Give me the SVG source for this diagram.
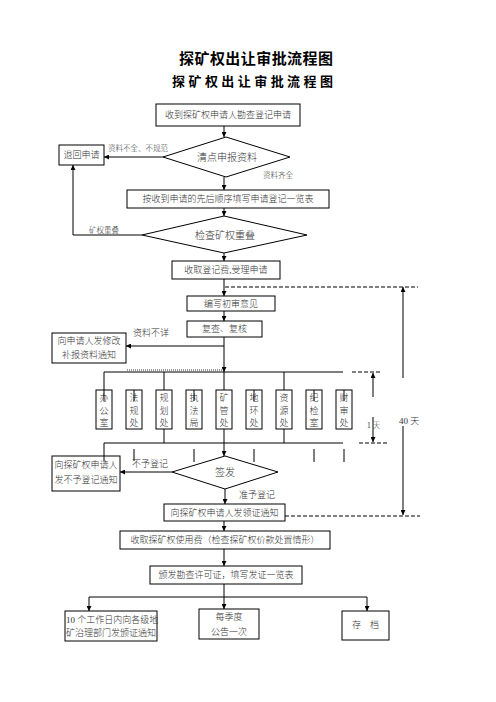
<svg xmlns="http://www.w3.org/2000/svg" width="496" height="702" viewBox="0 0 496 702">
<defs>
<marker id="ah" viewBox="0 0 6 6" refX="6" refY="3" markerWidth="5" markerHeight="5" markerUnits="userSpaceOnUse" orient="auto"><path d="M0,0 L6,3 L0,6 z" fill="#000"/></marker>
</defs>
<style>
.b{fill:#fff;stroke:#000;stroke-width:1}
.t{font-family:"Liberation Serif","Noto Sans CJK SC",serif;font-size:9px;font-weight:300;fill:#333;text-anchor:middle;dominant-baseline:central}
.s{text-anchor:start}
.sm{font-size:7.5px}
.lg{font-size:10px}
.l{stroke:#000;stroke-width:1;fill:none}
.a{marker-end:url(#ah)}
.d{stroke:#000;stroke-width:1;stroke-dasharray:4,2;fill:none}
.ttl{font-family:"Liberation Serif","Noto Sans CJK SC",serif;font-weight:bold;fill:#000}
</style>
<rect width="496" height="702" fill="#fff"/>
<text class="ttl" x="179" y="64" font-size="15" textLength="154" lengthAdjust="spacing">探矿权出让审批流程图</text>
<text class="ttl" x="172" y="86" font-size="13" textLength="161" lengthAdjust="spacing">探矿权出让审批流程图</text>

<g id="connectors">
<path class="l a" d="M224,126 V137"/>
<path class="l a" d="M224,177 V190"/>
<path class="l a" d="M163,157 H104"/>
<path class="l a" d="M224,208 V216"/>
<path class="l a" d="M142,235 H73 V165"/>
<path class="l a" d="M224,253 V261"/>
<path class="l a" d="M224,279 V296"/>
<path class="l a" d="M224,311 V321"/>
<path class="l a" d="M224,337 V372"/>
<path class="l a" d="M224,346 H126"/>
<path class="l" d="M104,372 H343"/>
<path d="M127,370 H222" stroke="#999" stroke-width="2" stroke-dasharray="1,1" fill="none"/>
<path class="l" d="M104,372 V401 M164,372 V390 M224,372 V390 M284,372 V390"/>
<path class="l" d="M164,429 V443 M224,429 V443 M284,429 V443"/>
<path class="l" d="M104,443 H343"/>
<path class="l a" d="M224,443 V456"/>
<path class="l" d="M104,443 V461 M134,449 V461 M194,449 V462 M254,449 V462 M314,449 V462 M344,449 V462"/>
<path class="l a" d="M172,472 H120"/>
<path class="l a" d="M225,489 V504"/>
<path class="l a" d="M224,521 V531"/>
<path class="l a" d="M224,549 V566"/>
<path class="l a" d="M224,584 V609"/>
<path class="l" d="M89,597 H367"/>
<path class="l a" d="M89,597 V611"/>
<path class="l a" d="M367,597 V611"/>
<path class="d" d="M225,287 H418"/>
<path class="l a" d="M403,378 V287"/>
<path class="l a" d="M403,426 V515"/>
<path class="d" d="M285,516 H420"/>
<path class="d" d="M352,372 H381"/>
<path class="d" d="M359,443 H388"/>
<path class="l a" d="M373,397 V373"/>
<path class="l a" d="M373,417 V442"/>
<text class="t s sm" x="108" y="148">资料不全、不规范</text>
<text class="t s sm" x="263" y="175">资料齐全</text>
<text class="t s sm" x="89" y="230">矿权重叠</text>
<text class="t s" x="133" y="333">资料不详</text>
<text class="t s" x="132" y="464">不予登记</text>
<text class="t s" x="239" y="495">准予登记</text>
<text class="t s" x="399" y="421">40 天</text>
<text class="t s sm" x="367" y="425">1 天</text>
</g>

<g id="n1"><rect class="b" x="156" y="104" width="144" height="22"/><text class="t" x="228" y="115">收到探矿权申请人勘查登记申请</text></g>
<g id="d1"><polygon class="b" points="163,157 226,137 290,157 226,177"/><text class="t lg" x="227" y="157">清点申报资料</text></g>
<g id="nReturn"><rect class="b" x="59" y="145" width="45" height="20"/><text class="t" x="81.5" y="155">退回申请</text></g>
<g id="n2"><rect class="b" x="127" y="190" width="202" height="18"/><text class="t" x="228" y="199">按收到申请的先后顺序填写申请登记一览表</text></g>
<g id="d2"><polygon class="b" points="142,235 224,216 307,235 224,253"/><text class="t lg" x="225" y="235">检查矿权重叠</text></g>
<g id="n3"><rect class="b" x="172" y="261" width="108" height="18"/><text class="t" x="226" y="270">收取登记费,受理申请</text></g>
<g id="n4"><rect class="b" x="187" y="296" width="88" height="15"/><text class="t" x="231" y="303.5">编写初审意见</text></g>
<g id="n5"><rect class="b" x="187" y="321" width="75" height="16"/><text class="t" x="224.5" y="329">复查、复核</text></g>
<g id="nMod"><rect class="b" x="52" y="333" width="74" height="30"/><text class="t" x="89" y="341">向申请人发修改</text><text class="t" x="89" y="355">补报资料通知</text></g>

<g id="dept1"><rect class="b" x="96" y="390" width="16" height="39"/><text class="t" x="104" y="398">办</text><text class="t" x="104" y="411">公</text><text class="t" x="104" y="423">室</text></g>
<g id="dept2"><rect class="b" x="126" y="390" width="16" height="39"/><text class="t" x="134" y="398">法</text><text class="t" x="134" y="411">规</text><text class="t" x="134" y="423">处</text></g>
<g id="dept3"><rect class="b" x="156" y="390" width="16" height="39"/><text class="t" x="164" y="398">规</text><text class="t" x="164" y="411">划</text><text class="t" x="164" y="423">处</text></g>
<g id="dept4"><rect class="b" x="186" y="390" width="16" height="39"/><text class="t" x="194" y="398">执</text><text class="t" x="194" y="411">法</text><text class="t" x="194" y="423">局</text></g>
<g id="dept5"><rect class="b" x="216" y="390" width="16" height="39"/><text class="t" x="224" y="398">矿</text><text class="t" x="224" y="411">管</text><text class="t" x="224" y="423">处</text></g>
<g id="dept6"><rect class="b" x="246" y="390" width="16" height="39"/><text class="t" x="254" y="398">地</text><text class="t" x="254" y="411">环</text><text class="t" x="254" y="423">处</text></g>
<g id="dept7"><rect class="b" x="276" y="390" width="16" height="39"/><text class="t" x="284" y="398">资</text><text class="t" x="284" y="411">源</text><text class="t" x="284" y="423">处</text></g>
<g id="dept8"><rect class="b" x="306" y="390" width="16" height="39"/><text class="t" x="314" y="398">纪</text><text class="t" x="314" y="411">检</text><text class="t" x="314" y="423">室</text></g>
<g id="dept9"><rect class="b" x="336" y="390" width="16" height="39"/><text class="t" x="344" y="398">财</text><text class="t" x="344" y="411">审</text><text class="t" x="344" y="423">处</text></g>
<g id="deptLines"><path class="l" d="M104,390 V401 M134,390 V401 M194,390 V401 M254,390 V401 M314,390 V401 M344,390 V401"/></g>

<g id="d3"><polygon class="b" points="172,472 225,456 278,472 225,489"/><text class="t lg" x="225" y="472">签发</text></g>
<g id="nReject"><rect class="b" x="52" y="456" width="68" height="35"/><path class="l" d="M104,456 V461"/><text class="t" x="86" y="465">向探矿权申请人</text><text class="t" x="86" y="480">发不予登记通知</text></g>
<g id="n6"><rect class="b" x="164" y="504" width="121" height="17"/><text class="t" x="224.5" y="512.5">向探矿权申请人发领证通知</text></g>
<g id="n7"><rect class="b" x="120" y="531" width="210" height="18"/><text class="t" x="225" y="540">收取探矿权使用费（检查探矿权价款处置情形）</text></g>
<g id="n8"><rect class="b" x="150" y="566" width="152" height="18"/><text class="t" x="226" y="575">颁发勘查许可证，填写发证一览表</text></g>
<g id="n9"><rect class="b" x="65" y="611" width="92" height="30"/><text class="t s" x="66" y="620">10 个工作日内向各级地</text><text class="t s" x="66" y="633">矿治理部门发颁证通知</text></g>
<g id="n10"><rect class="b" x="199" y="609" width="60" height="30"/><text class="t" x="229" y="617">每季度</text><text class="t" x="229" y="632">公告一次</text></g>
<g id="n11"><rect class="b" x="342" y="611" width="47" height="29"/><text class="t" x="365.5" y="625">存　档</text></g>
</svg>
